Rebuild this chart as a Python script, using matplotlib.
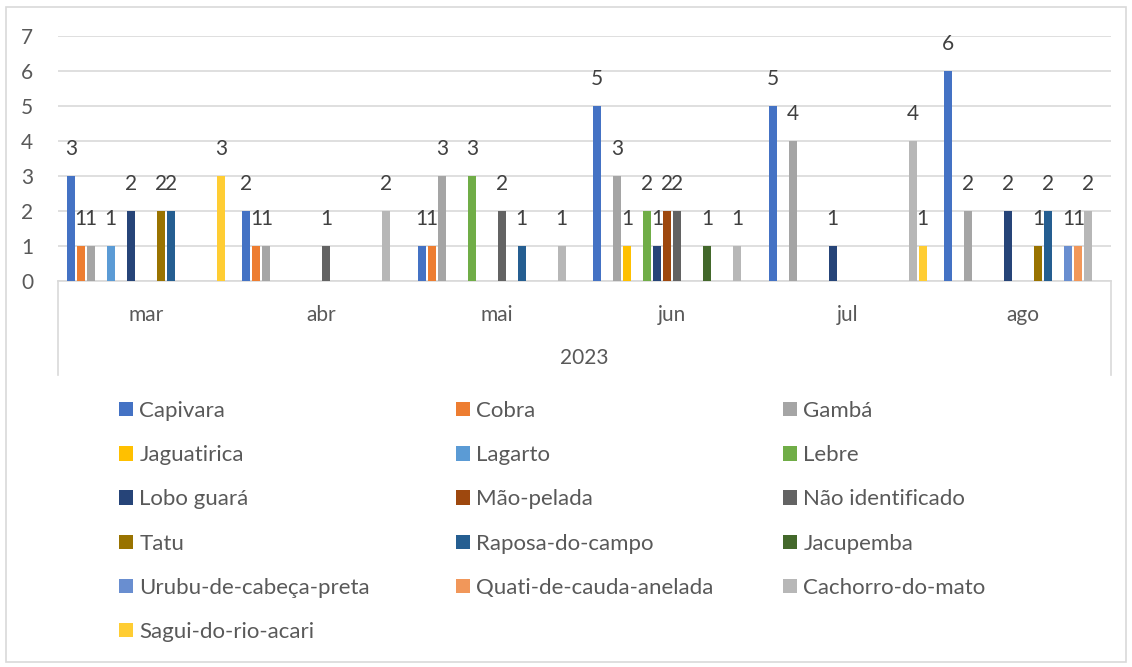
import numpy as np
import matplotlib.pyplot as plt
from matplotlib.patches import Rectangle
from matplotlib.lines import Line2D

plt.rcParams['font.family'] = ['Lato', 'DejaVu Sans']

months = ['mar', 'abr', 'mai', 'jun', 'jul', 'ago']
year = '2023'

species = ['Capivara', 'Cobra', 'Gambá', 'Jaguatirica', 'Lagarto', 'Lebre',
           'Lobo guará', 'Mão-pelada', 'Não identificado', 'Tatu',
           'Raposa-do-campo', 'Jacupemba', 'Urubu-de-cabeça-preta',
           'Quati-de-cauda-anelada', 'Cachorro-do-mato', 'Sagui-do-rio-acari']

# counts per month (mar..ago), 0 = no record
capivara = [3, 2, 1, 5, 5, 6]
cobra = [1, 1, 1, 0, 0, 0]
gamba = [1, 1, 3, 3, 4, 2]
jaguatirica = [0, 0, 0, 1, 0, 0]
lagarto = [1, 0, 0, 0, 0, 0]
lebre = [0, 0, 3, 2, 0, 0]
lobo_guara = [2, 0, 0, 1, 1, 2]
mao_pelada = [0, 0, 0, 2, 0, 0]
nao_identificado = [0, 1, 2, 2, 0, 0]
tatu = [2, 0, 0, 0, 0, 1]
raposa = [2, 0, 1, 0, 0, 2]
jacupemba = [0, 0, 0, 1, 0, 0]
urubu = [0, 0, 0, 0, 0, 1]
quati = [0, 0, 0, 0, 0, 1]
cachorro = [0, 2, 1, 1, 4, 2]
sagui = [3, 0, 0, 0, 1, 0]

values = [capivara, cobra, gamba, jaguatirica, lagarto, lebre, lobo_guara,
          mao_pelada, nao_identificado, tatu, raposa, jacupemba, urubu,
          quati, cachorro, sagui]

colors = ['#4472C4', '#ED7D31', '#A5A5A5', '#FFC000', '#5B9BD5', '#70AD47',
          '#264478', '#9E480E', '#636363', '#997300', '#255E91', '#43682B',
          '#698ED0', '#F1975A', '#B7B7B7', '#FFCD33']

txt = '#595959'
grid = '#D9D9D9'
fs = 15

fig = plt.figure(figsize=(11.32, 6.67), dpi=100)
W, H = 1132, 667
ax = fig.add_axes([58 / W, 1 - 281 / H, (1111 - 58) / W, (281 - 36) / H])

n = len(species)
slot = 10 / 175.5
x = np.arange(len(months))
for k in range(n):
    pos = x + (k - (n - 1) / 2) * slot
    bars = ax.bar(pos, values[k], width=slot * 0.8, color=colors[k],
                  linewidth=0, label=species[k], zorder=3)
    labs = [str(v) if v else '' for v in values[k]]
    ax.bar_label(bars, labels=labs, padding=12, fontsize=fs, color='#404040')

ax.set_xlim(-0.5, len(months) - 0.5)
ax.set_ylim(0, 7)
ax.set_yticks(range(8))
ax.tick_params(axis='y', length=0, pad=18, labelsize=fs, labelcolor=txt)
ax.set_xticks(x)
ax.set_xticklabels(months)
ax.tick_params(axis='x', length=0, pad=17, labelsize=fs, labelcolor=txt)
ax.grid(axis='y', color=grid, linewidth=1.2, zorder=0)
for s in ['top', 'right', 'left']:
    ax.spines[s].set_visible(False)
ax.spines['bottom'].set_color(grid)
ax.spines['bottom'].set_linewidth(1.2)

# multi-level category box
fig.add_artist(Line2D([58 / W, 58 / W], [1 - 281 / H, 1 - 375 / H],
                      color=grid, linewidth=1.2))
fig.add_artist(Line2D([1111 / W, 1111 / W], [1 - 281 / H, 1 - 375 / H],
                      color=grid, linewidth=1.2))
fig.text((58 + 1111) / 2 / W, 1 - 358 / H, year, ha='center', va='center',
         fontsize=fs, color=txt)

# chart border
fig.add_artist(Rectangle((6 / W, 1 - 662 / H), 1120 / W, 655 / H,
                         fill=False, edgecolor=grid, linewidth=1.2))

# legend: 3 columns, filled row by row
handles, labels = ax.get_legend_handles_labels()
col_x = [119, 456, 783]
for c in range(3):
    leg = fig.legend(handles[c::3], labels[c::3], loc='upper left',
                     bbox_to_anchor=(col_x[c] / W, 1 - 401 / H),
                     frameon=False, fontsize=16, labelcolor=txt,
                     handlelength=0.62, handleheight=0.62, handletextpad=0.3,
                     labelspacing=1.09, borderpad=0, borderaxespad=0)

fig.savefig('out.png', dpi=100)
